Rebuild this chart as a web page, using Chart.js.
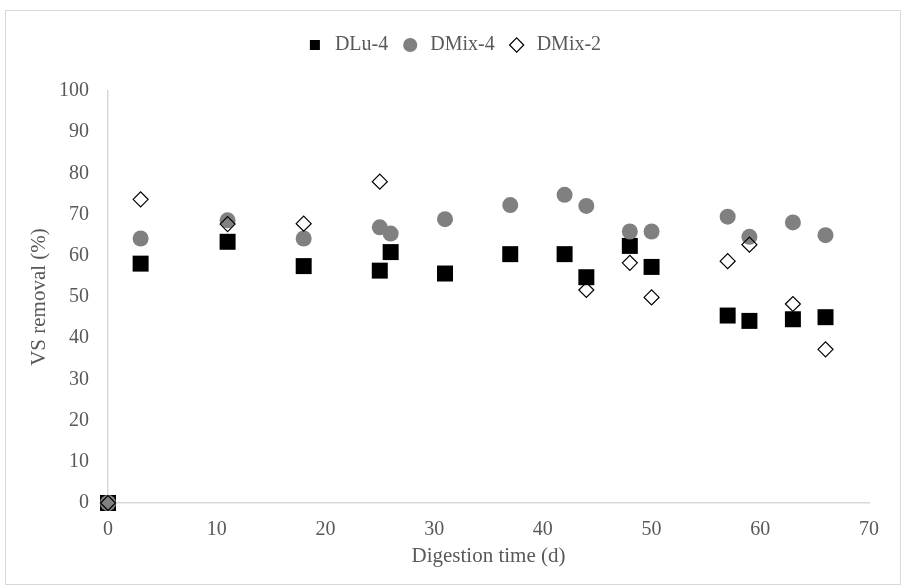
<!DOCTYPE html>
<html lang="en">
<head>
<meta charset="UTF-8">
<script src="https://cdn.jsdelivr.net/npm/chart.js"></script>
<title>VS removal</title>
<style>
  html,body{margin:0;padding:0;background:#fff;}
  #wrap{width:906px;height:588px;}
</style>
</head>
<body>
<div id="wrap"><canvas id="myChart" width="906" height="588"></canvas></div>
<script>
// digestion time (d) and VS removal (%) per series
const dluDays  = [0, 3, 11, 18, 25, 26, 31, 37, 42, 44, 48, 50, 57, 59, 63, 66];
const dluVals  = [0, 58.1, 63.4, 57.5, 56.4, 60.9, 55.7, 60.4, 60.4, 54.8, 62.4, 57.3, 45.5, 44.2, 44.6, 45.1];
const mix4Days = [0, 3, 11, 18, 25, 26, 31, 37, 42, 44, 48, 50, 57, 59, 63, 66];
const mix4Vals = [0, 64.2, 68.6, 64.2, 66.9, 65.4, 68.9, 72.3, 74.8, 72.1, 65.9, 65.9, 69.5, 64.6, 68.1, 65.0];
const mix2Days = [0, 3, 11, 18, 25, 44, 48, 50, 57, 59, 63, 66];
const mix2Vals = [0, 73.7, 67.7, 67.8, 78.0, 51.7, 58.3, 49.9, 58.7, 62.7, 48.3, 37.3];
const seriesNames = ['DLu-4', 'DMix-4', 'DMix-2'];

function pts(xs, ys){ return xs.map((x, i) => ({x: x, y: ys[i]})); }

const txt = '#595959';
const axisCol = '#d9d9d9';
const fam = '"Liberation Serif", "Times New Roman", serif';

// outer frame of the chart
const framePlugin = {
  id: 'frame',
  beforeDraw(chart){
    const c = chart.ctx;
    c.save();
    c.fillStyle = '#fff';
    c.fillRect(0, 0, chart.width, chart.height);
    c.strokeStyle = axisCol;
    c.lineWidth = 1;
    c.strokeRect(5.5, 10.5, 895, 574);
    c.restore();
  }
};

// extra room under the legend, and centre it on the whole frame
const legendGap = {
  id: 'legendGap',
  beforeLayout(chart){
    const lg = chart.legend;
    if (lg && !lg._gap){
      const f = lg.fit;
      lg.fit = function(){ f.call(this); this.height += 26; };
      lg._gap = true;
    }
  },
  afterLayout(chart){
    if (chart.legend) chart.legend.left += 32;
  }
};

new Chart(document.getElementById('myChart'), {
  type: 'scatter',
  data: {
    datasets: [{
      label: seriesNames[0],
      data: pts(dluDays, dluVals),
      pointStyle: 'rect',
      pointRadius: 11.3,
      pointHoverRadius: 11.3,
      backgroundColor: '#000000',
      borderColor: '#000000',
      borderWidth: 0,
      clip: false,
      order: 3
    }, {
      label: seriesNames[1],
      data: pts(mix4Days, mix4Vals),
      pointStyle: 'circle',
      pointRadius: 8,
      pointHoverRadius: 8,
      backgroundColor: '#808080',
      borderColor: '#808080',
      borderWidth: 0,
      clip: false,
      order: 2
    }, {
      label: seriesNames[2],
      data: pts(mix2Days, mix2Vals),
      pointStyle: 'rectRot',
      pointRadius: 7.5,
      pointHoverRadius: 7.5,
      backgroundColor: 'rgba(255,255,255,0)',
      borderColor: '#000000',
      borderWidth: 1.2,
      clip: false,
      order: 1
    }]
  },
  options: {
    responsive: false,
    animation: false,
    devicePixelRatio: 1,
    layout: { padding: { left: 5, right: 37, top: 23, bottom: 5 } },
    plugins: {
      tooltip: { enabled: false },
      legend: {
        position: 'top',
        labels: {
          usePointStyle: true,
          boxHeight: 10,
          padding: 12,
          color: txt,
          font: { family: fam, size: 20 },
          sort: (a, b) => a.datasetIndex - b.datasetIndex
        }
      }
    },
    scales: {
      x: {
        type: 'linear',
        min: 0,
        max: 70,
        grid: { display: false, drawTicks: false },
        border: { display: true, color: axisCol, width: 1.5 },
        ticks: { stepSize: 10, color: txt, padding: 15, font: { family: fam, size: 20 } },
        title: { display: true, text: 'Digestion time (d)', color: txt, font: { family: fam, size: 21 }, padding: { top: 0, bottom: 14 } },
        afterFit(scale){ scale.height = 588 - 5 - 503; }
      },
      y: {
        min: 0,
        max: 100,
        grid: { display: false, drawTicks: false },
        border: { display: true, color: axisCol, width: 1.5 },
        ticks: { stepSize: 10, color: txt, padding: 19, font: { family: fam, size: 20 } },
        title: { display: true, text: 'VS removal (%)', color: txt, font: { family: fam, size: 21 }, padding: { top: 22, bottom: 0 } },
        afterFit(scale){ scale.width = 108 - 5; }
      }
    }
  },
  plugins: [framePlugin, legendGap]
});
</script>
</body>
</html>
